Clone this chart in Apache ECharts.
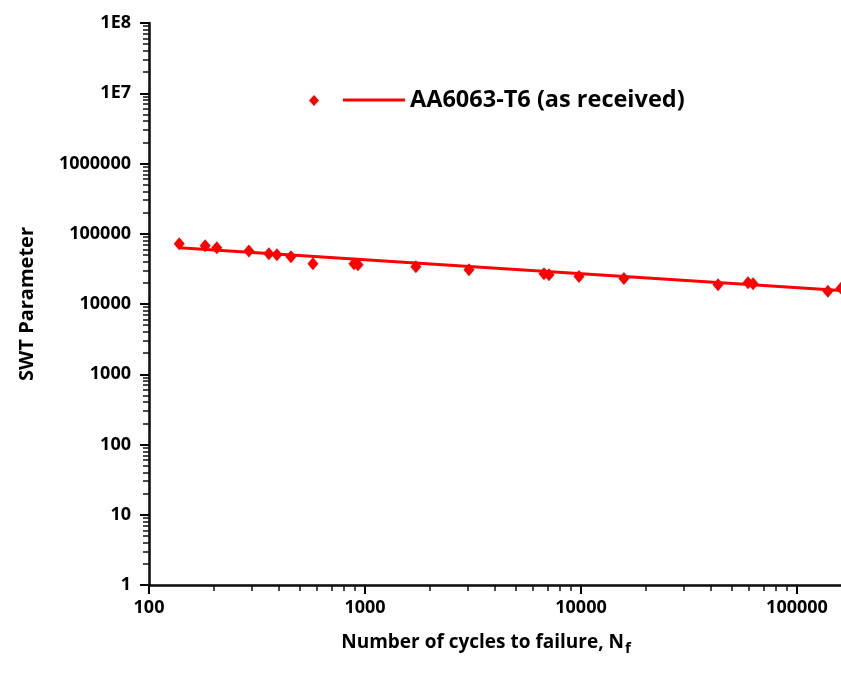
<!DOCTYPE html>
<html>
<head>
<meta charset="utf-8">
<script src="https://cdn.jsdelivr.net/npm/echarts@6/dist/echarts.min.js"></script>
<style>
html,body{margin:0;padding:0;background:#fff;}
#chart{width:841px;height:677px;}
</style>
</head>
<body>
<div id="chart"></div>
<script>
// ---- data ----
const seriesName = 'AA6063-T6 (as received)';
const cycles = [138, 182, 206, 290, 359, 391, 454, 574, 889, 928, 1720, 3030, 6740, 7110, 9790, 15800, 43100, 59300, 62600, 139000, 160000];
const swt = [72100, 67500, 63000, 57000, 52000, 50200, 47100, 37500, 37500, 36300, 34000, 30800, 27000, 26100, 24600, 23000, 18800, 20000, 19400, 15200, 16800];
const fitCycles = [138, 161000];
const fitSwt = [63000, 15500];
const xTickValues = [100, 1000, 10000, 100000, 1000000];
const xTickLabels = ['100', '1000', '10000', '100000', '1000000'];
const yTickValues = [1, 10, 100, 1000, 10000, 100000, 1000000, 10000000, 100000000];
const yTickLabels = ['1', '10', '100', '1000', '10000', '100000', '1000000', '1E7', '1E8'];

// minor tick positions (in log10 units) for the helper tick axes
const xMinor = [];
for (let d = 2; d < 6; d++) for (let k = 2; k <= 9; k++) xMinor.push(Math.log10(k * Math.pow(10, d)));
const yMinor = [];
for (let d = 0; d < 8; d++) for (let k = 2; k <= 9; k++) yMinor.push(Math.log10(k * Math.pow(10, d)));

function labelFor(values, labels) {
  return function (v) {
    for (let i = 0; i < values.length; i++) {
      if (Math.abs(v - values[i]) / values[i] < 1e-6) return labels[i];
    }
    return '';
  };
}

const FONT = 'Open Sans';
const RED = '#ff0000';
const GRID_W = 864, GRID_H = 562;

const chart = echarts.init(document.getElementById('chart'), null, {renderer: 'canvas'});
chart.setOption({
  animation: false,
  backgroundColor: '#fff',
  grid: {left: 149, top: 23, width: GRID_W, height: GRID_H, containLabel: false, outerBoundsMode: 'none'},
  legend: [
    {
      data: ['pts'], left: 309, top: 95, padding: 0,
      itemWidth: 10, itemHeight: 11, icon: 'diamond',
      formatter: function () { return ''; },
      textStyle: {fontSize: 8}, selectedMode: false
    },
    {
      data: [{name: seriesName, icon: 'rect'}], left: 343, top: 88, padding: 0,
      itemWidth: 62, itemHeight: 3, itemGap: 5,
      textStyle: {fontFamily: FONT, fontWeight: 'bold', fontSize: 23.5, color: '#000'},
      selectedMode: false
    }
  ],
  xAxis: [
    {
      type: 'log', logBase: 10, min: 100, max: 1000000, interval: 1,
      position: 'bottom',
      axisLine: {show: true, onZero: false, lineStyle: {color: '#000', width: 2.5}},
      axisTick: {show: true, inside: false, length: 9, lineStyle: {color: '#000', width: 2}},
      axisLabel: {
        margin: 14, color: '#000', fontFamily: FONT, fontWeight: 'bold', fontSize: 18,
        formatter: labelFor(xTickValues, xTickLabels)
      },
      splitLine: {show: false}, minorTick: {show: false}
    },
    {
      // helper axis laid over the bottom axis, for minor ticks only
      type: 'value', min: 2, max: 6, position: 'top', offset: -GRID_H,
      axisLine: {show: true, lineStyle: {color: '#111'}},
      axisTick: {show: true, inside: true, length: 6, customValues: xMinor, lineStyle: {color: '#111', width: 1.5}},
      axisLabel: {show: false}, splitLine: {show: false}
    },
    {
      // spare helper axis, kept below the visible area
      type: 'value', min: 2, max: 6, position: 'bottom', offset: 200,
      axisLine: {show: true, lineStyle: {color: '#111'}},
      axisTick: {show: true, length: 6, customValues: xMinor, lineStyle: {color: '#111', width: 1.5}},
      axisLabel: {show: false}, splitLine: {show: false}
    }
  ],
  yAxis: [
    {
      type: 'log', logBase: 10, min: 1, max: 100000000, interval: 1,
      position: 'left',
      name: 'SWT Parameter', nameLocation: 'middle', nameRotate: 90, nameGap: 112,
      nameTextStyle: {fontFamily: FONT, fontWeight: 'bold', fontSize: 20, color: '#000'},
      axisLine: {show: true, onZero: false, lineStyle: {color: '#000', width: 2.5}},
      axisTick: {show: true, inside: false, length: 9, lineStyle: {color: '#000', width: 2}},
      axisLabel: {
        margin: 18, color: '#000', fontFamily: FONT, fontWeight: 'bold', fontSize: 18,
        formatter: labelFor(yTickValues, yTickLabels)
      },
      splitLine: {show: false}, minorTick: {show: false}
    },
    {
      // helper axis laid over the left axis, for minor ticks only
      type: 'value', min: 0, max: 8, position: 'right', offset: -GRID_W,
      axisLine: {show: true, lineStyle: {color: '#111'}},
      axisTick: {show: true, inside: true, length: 6, customValues: yMinor, lineStyle: {color: '#111', width: 1.5}},
      axisLabel: {show: false}, splitLine: {show: false}
    },
    {
      // spare helper axis, kept right of the visible area
      type: 'value', min: 0, max: 8, position: 'right', offset: 0,
      axisLine: {show: true, lineStyle: {color: '#111'}},
      axisTick: {show: true, length: 6, customValues: yMinor, lineStyle: {color: '#111', width: 1.5}},
      axisLabel: {show: false}, splitLine: {show: false}
    },
    {
      // spare helper axis, kept left of the visible area
      type: 'value', min: 0, max: 8, position: 'left', offset: 200,
      axisLine: {show: true, lineStyle: {color: '#111'}},
      axisTick: {show: true, length: 6, customValues: yMinor, lineStyle: {color: '#111', width: 1.5}},
      axisLabel: {show: false}, splitLine: {show: false}
    }
  ],
  graphic: [
    {
      type: 'text', x: 486, y: 643, silent: true,
      style: {
        text: '{a|Number of cycles to failure, N}{b|f}',
        align: 'center', verticalAlign: 'middle',
        rich: {
          a: {fontFamily: FONT, fontWeight: 'bold', fontSize: 19, lineHeight: 26, fill: '#000', color: '#000'},
          b: {fontFamily: FONT, fontWeight: 'bold', fontSize: 15, fill: '#000', color: '#000', padding: [12, 0, 0, 1]}
        }
      }
    }
  ],
  series: [
    {
      name: seriesName, type: 'line', xAxisIndex: 0, yAxisIndex: 0,
      data: fitCycles.map((c, i) => [c, fitSwt[i]]),
      symbol: 'none', showSymbol: false,
      lineStyle: {color: RED, width: 3}, itemStyle: {color: RED}, z: 2
    },
    {
      name: 'pts', type: 'scatter', xAxisIndex: 0, yAxisIndex: 0,
      data: cycles.map((c, i) => [c, swt[i]]),
      symbol: 'diamond', symbolSize: [11, 13],
      itemStyle: {color: RED, opacity: 1}, z: 3
    }
  ]
});
</script>
</body>
</html>
